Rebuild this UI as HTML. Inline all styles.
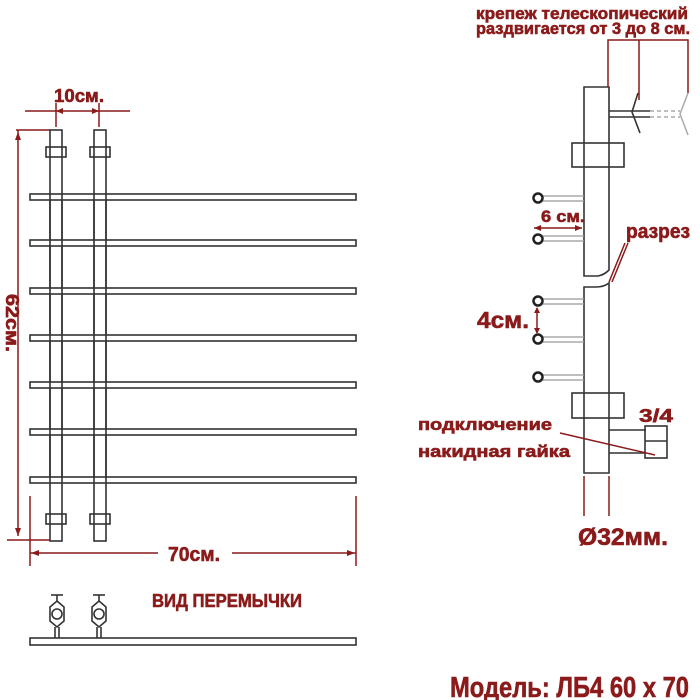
<!DOCTYPE html>
<html><head><meta charset="utf-8"><style>html,body{margin:0;padding:0;background:#fff}svg{display:block}</style></head><body>
<svg width="700" height="700" viewBox="0 0 700 700" xmlns="http://www.w3.org/2000/svg" font-family="Liberation Sans, sans-serif" font-weight="bold">
<g fill="none" stroke="#333" stroke-width="1.6">
<rect x="50" y="130" width="12" height="411"/>
<rect x="94" y="130" width="12" height="411"/>
<rect x="46" y="147" width="20" height="10"/>
<rect x="90" y="147" width="20" height="10"/>
<rect x="46" y="514" width="20" height="10"/>
<rect x="90" y="514" width="20" height="10"/>
</g>
<g fill="#fff" stroke="#333" stroke-width="1.6">
<rect x="30" y="194" width="326" height="6"/>
<rect x="30" y="240" width="326" height="6"/>
<rect x="30" y="288" width="326" height="6"/>
<rect x="30" y="335" width="326" height="6"/>
<rect x="30" y="382" width="326" height="6"/>
<rect x="30" y="429" width="326" height="6"/>
<rect x="30" y="477" width="326" height="6"/>
</g>
<g stroke="#333" stroke-width="1.6" fill="none">
<line x1="50" y1="194" x2="50" y2="483"/><line x1="62" y1="194" x2="62" y2="483"/>
<line x1="94" y1="194" x2="94" y2="483"/><line x1="106" y1="194" x2="106" y2="483"/>
</g>
<g stroke="#8b1a1a" stroke-width="1.5" fill="none">
<line x1="25" y1="111" x2="130" y2="111"/>
<line x1="56" y1="103" x2="56" y2="127"/><line x1="99" y1="103" x2="99" y2="127"/>
<line x1="16" y1="130" x2="50" y2="130"/>
<line x1="18" y1="130" x2="18" y2="536"/>
<line x1="7" y1="540" x2="50" y2="540"/>
<line x1="30" y1="496" x2="30" y2="566"/><line x1="356" y1="496" x2="356" y2="566"/>
<line x1="30" y1="553" x2="158" y2="553"/><line x1="232" y1="553" x2="356" y2="553"/>
</g>
<g fill="#8b1a1a">
<path d="M56 111l7-3v6z M99 111l-7-3v6z M18 132l-3 8h6z M18 536l-3-8h6z M31 553l8-3v6z M355 553l-8-3v6z"/>
</g>
<g fill="#8b1a1a" stroke="#8b1a1a" stroke-width="0.6">
<text x="54" y="102" font-size="18" textLength="50" lengthAdjust="spacingAndGlyphs">10см.</text>
<text transform="translate(6,294) rotate(90)" font-size="18" textLength="58" lengthAdjust="spacingAndGlyphs">62см.</text>
<text x="168" y="561" font-size="20" textLength="52" lengthAdjust="spacingAndGlyphs">70см.</text>
<text x="152" y="607" font-size="18" textLength="150" lengthAdjust="spacingAndGlyphs">ВИД ПЕРЕМЫЧКИ</text>
</g>
<g stroke="#333" stroke-width="1.6" fill="none">
<rect x="30" y="638" width="326" height="7"/>
<polygon points="57,601 64,607 64,621 57,627 50,621 50,607"/><circle cx="57" cy="614" r="5"/>
<polygon points="99,601 106,607 106,621 99,627 92,621 92,607"/><circle cx="99" cy="614" r="5"/>
<line x1="51" y1="595" x2="63" y2="595"/><line x1="57" y1="595" x2="57" y2="601"/>
<line x1="93" y1="595" x2="105" y2="595"/><line x1="99" y1="595" x2="99" y2="601"/>
<line x1="55" y1="627" x2="55" y2="638"/><line x1="59" y1="627" x2="59" y2="638"/>
<line x1="97" y1="627" x2="97" y2="638"/><line x1="101" y1="627" x2="101" y2="638"/>
</g>
<g stroke="#333" stroke-width="1.6" fill="none">
<path d="M584 87H609V270Q604 275 598 276Q592 276 584 276Z"/>
<path d="M584 473H609V283Q604 287 596 287H584Z" />
<rect x="572" y="143" width="52" height="24" fill="#fff"/>
<rect x="572" y="393" width="52" height="25" fill="#fff"/>
<line x1="584" y1="143" x2="584" y2="167"/><line x1="609" y1="143" x2="609" y2="167"/>
<line x1="584" y1="393" x2="584" y2="418"/><line x1="609" y1="393" x2="609" y2="418"/>
<line x1="609" y1="111" x2="650" y2="111"/><line x1="609" y1="117" x2="650" y2="117"/>
<path d="M638 93L632 112L640 133"/>
<line x1="609" y1="430" x2="646" y2="430"/><line x1="609" y1="453" x2="646" y2="453"/>
<rect x="645" y="426" width="22" height="32"/><line x1="645" y1="441" x2="667" y2="441"/>
</g>
<g stroke="#999" stroke-width="1.3" fill="none" stroke-dasharray="4,3">
<line x1="650" y1="111" x2="680" y2="111"/><line x1="650" y1="117" x2="680" y2="117"/>
</g>
<path d="M688 93L680 114L688 135" stroke="#aaa" stroke-width="1.5" fill="none"/>
<g stroke="#999" stroke-width="1.2">
<line x1="542" y1="196" x2="584" y2="196"/><line x1="542" y1="201" x2="584" y2="201"/>
<line x1="542" y1="236" x2="584" y2="236"/><line x1="542" y1="241" x2="584" y2="241"/>
<line x1="542" y1="299" x2="584" y2="299"/><line x1="542" y1="304" x2="584" y2="304"/>
<line x1="542" y1="337" x2="584" y2="337"/><line x1="542" y1="342" x2="584" y2="342"/>
<line x1="542" y1="375" x2="584" y2="375"/><line x1="542" y1="380" x2="584" y2="380"/>
</g>
<g stroke="#222" stroke-width="2.5" fill="#fff">
<circle cx="538" cy="198" r="4.5"/><circle cx="538" cy="239" r="4.5"/>
<circle cx="538" cy="301" r="4.5"/><circle cx="538" cy="339" r="4.5"/><circle cx="538" cy="377" r="4.5"/>
</g>
<g stroke="#8b1a1a" stroke-width="1.5" fill="none">
<path d="M608 87V40H688V93 M639 40V100"/>
<line x1="534" y1="228" x2="582" y2="228"/>
<line x1="537" y1="308" x2="537" y2="333"/>
<line x1="625" y1="243" x2="609" y2="282"/><line x1="628" y1="243" x2="612" y2="282"/>
<line x1="560" y1="433" x2="655" y2="455"/>
<line x1="584" y1="476" x2="584" y2="516"/><line x1="609" y1="476" x2="609" y2="516"/>
</g>
<g fill="#8b1a1a">
<path d="M534 228l7-3v6z M582 228l-7-3v6z M537 307l-3 6h6z M537 334l-3-6h6z"/>
</g>
<g fill="#8b1a1a" stroke="#8b1a1a" stroke-width="0.6">
<text x="476" y="19" font-size="17" textLength="212" lengthAdjust="spacingAndGlyphs">крепеж телескопический</text>
<text x="476" y="34" font-size="17" textLength="214" lengthAdjust="spacingAndGlyphs">раздвигается от 3 до 8 см.</text>
<text x="541" y="222" font-size="17" textLength="44" lengthAdjust="spacingAndGlyphs">6 см.</text>
<text x="626" y="238" font-size="20" textLength="64" lengthAdjust="spacingAndGlyphs">разрез</text>
<text x="477" y="328" font-size="23" textLength="52" lengthAdjust="spacingAndGlyphs">4см.</text>
<text x="639" y="422" font-size="18" textLength="34" lengthAdjust="spacingAndGlyphs">3/4</text>
<text x="418" y="430" font-size="17" textLength="134" lengthAdjust="spacingAndGlyphs">подключение</text>
<text x="418" y="457" font-size="17" textLength="152" lengthAdjust="spacingAndGlyphs">накидная гайка</text>
<text x="578" y="545" font-size="24" textLength="90" lengthAdjust="spacingAndGlyphs">Ø32мм.</text>
<text x="450" y="697" font-size="29" textLength="239" lengthAdjust="spacingAndGlyphs">Модель: ЛБ4 60 х 70</text>
</g>
</svg>
</body></html>
